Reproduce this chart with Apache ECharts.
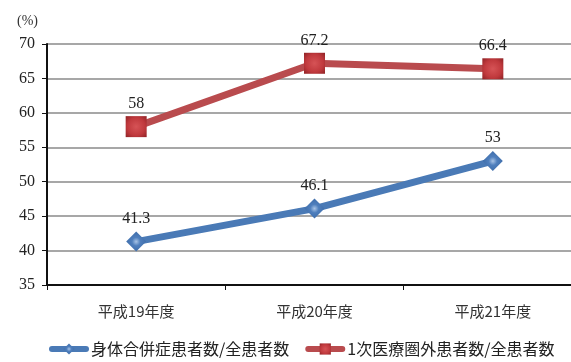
<!DOCTYPE html>
<html>
<head>
<meta charset="UTF-8">
<script src="https://cdn.jsdelivr.net/npm/echarts@6/dist/echarts.min.js"></script>
<style>
  body { margin: 0; background: #fff; }
  #main { width: 571px; height: 362px; }
</style>
</head>
<body>
<div id="main"></div>
<script>
  var categories = ['平成19年度', '平成20年度', '平成21年度'];
  var seriesNames = ['身体合併症患者数/全患者数', '1次医療圏外患者数/全患者数'];
  var physical = [41.3, 46.1, 53];
  var outside = [58, 67.2, 66.4];

  var serif = '"Liberation Serif", "DejaVu Serif", serif';
  var cjk = '"Noto Sans CJK JP", sans-serif';

  var myChart = echarts.init(document.getElementById('main'));

  myChart.setOption({
    animation: false,
    title: {
      text: '(%)',
      left: 12,
      top: 9,
      textStyle: { fontFamily: serif, fontSize: 14, fontWeight: 'normal', color: '#333' }
    },
    grid: { left: 47, width: 535, top: 44, bottom: 77, outerBoundsMode: 'none', containLabel: false },
    legend: {
      bottom: 0,
      left: 44,
      itemWidth: 34,
      itemHeight: 14,
      itemGap: 16,
      lineStyle: { width: 6, cap: 'round' },
      textStyle: { fontFamily: cjk, fontSize: 16, color: '#222' },
      data: seriesNames
    },
    xAxis: {
      type: 'category',
      data: categories,
      axisLine: { lineStyle: { color: '#111', width: 2 } },
      axisTick: { show: true, length: 5, lineStyle: { color: '#111' } },
      axisLabel: { margin: 19, fontFamily: cjk, fontSize: 15, color: '#333' }
    },
    yAxis: {
      type: 'value',
      min: 35,
      max: 70,
      interval: 5,
      axisLine: { show: true, lineStyle: { color: '#111', width: 2 } },
      axisTick: { show: true, length: 5, lineStyle: { color: '#111' } },
      axisLabel: { margin: 12, fontFamily: serif, fontSize: 16, color: '#222' },
      splitLine: { lineStyle: { color: '#8a8a8a', width: 1.5 } }
    },
    series: [
      {
        name: seriesNames[0],
        type: 'line',
        data: physical,
        symbol: 'diamond',
        symbolSize: 20,
        itemStyle: {
          color: new echarts.graphic.RadialGradient(0.5, 0.5, 0.6, [
            { offset: 0, color: '#a9c4e6' },
            { offset: 0.35, color: '#4f7fbd' },
            { offset: 1, color: '#3a68a4' }
          ])
        },
        lineStyle: { color: '#4a7ab6', width: 7 },
        label: {
          show: true,
          position: 'top',
          distance: 5,
          fontFamily: serif,
          fontSize: 16,
          color: '#222'
        }
      },
      {
        name: seriesNames[1],
        type: 'line',
        data: outside,
        symbol: 'rect',
        symbolSize: 21,
        itemStyle: {
          color: new echarts.graphic.RadialGradient(0.5, 0.5, 0.7, [
            { offset: 0, color: '#d65356' },
            { offset: 0.6, color: '#c0393d' },
            { offset: 1, color: '#8e2225' }
          ])
        },
        lineStyle: { color: '#b94b4e', width: 7 },
        label: {
          show: true,
          position: 'top',
          distance: 4,
          fontFamily: serif,
          fontSize: 16,
          color: '#222'
        }
      }
    ]
  });
</script>
</body>
</html>
